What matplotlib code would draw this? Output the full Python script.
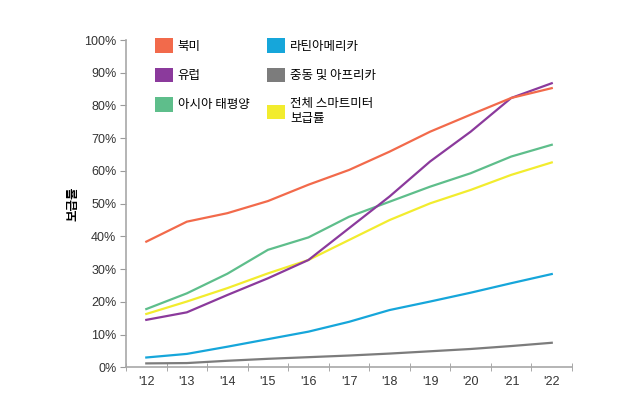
import matplotlib
matplotlib.use('Agg')
import matplotlib.pyplot as plt
from matplotlib.patches import Patch
import numpy as np

plt.rcParams['font.family'] = ['Liberation Sans', 'Noto Sans CJK KR', 'DejaVu Sans']

# years '12 .. '22
years = ["'12", "'13", "'14", "'15", "'16", "'17", "'18", "'19", "'20", "'21", "'22"]

# smart meter penetration (%)
north_america = [38.4, 44.5, 47.1, 50.8, 55.8, 60.3, 65.9, 72.0, 77.2, 82.3, 85.3]
europe = [14.5, 16.8, 22.1, 27.2, 32.8, 42.5, 52.2, 62.9, 72.0, 82.3, 86.8]
asia_pacific = [17.8, 22.6, 28.6, 35.9, 39.7, 46.0, 50.6, 55.2, 59.3, 64.4, 68.0]
latin_america = [3.0, 4.1, 6.3, 8.6, 10.9, 13.9, 17.5, 20.1, 22.8, 25.7, 28.5]
mea = [1.2, 1.3, 2.0, 2.6, 3.1, 3.6, 4.2, 4.9, 5.6, 6.5, 7.5]
overall = [16.3, 20.1, 24.2, 28.7, 32.8, 38.9, 45.0, 50.1, 54.2, 58.8, 62.6]

c_na = '#F26A4B'
c_eu = '#8B3A9C'
c_ap = '#5EBE8B'
c_la = '#16A6DA'
c_mea = '#7C7C7C'
c_all = '#F2EC2E'

fig = plt.figure(figsize=(6.41, 4.04), dpi=100)
ax = fig.add_axes([0.1966, 0.0908, 0.6958, 0.8101])

x = np.arange(len(years))
ax.plot(x, mea, color=c_mea, lw=1.6)
ax.plot(x, latin_america, color=c_la, lw=1.6)
ax.plot(x, overall, color=c_all, lw=1.6)
ax.plot(x, asia_pacific, color=c_ap, lw=1.6)
ax.plot(x, europe, color=c_eu, lw=1.6)
ax.plot(x, north_america, color=c_na, lw=1.6)

ax.set_xlim(-0.5, len(years) - 0.5)
ax.set_ylim(0, 100)
ax.set_xticks(x)
ax.set_xticklabels(years, fontsize=9, color='#333333')
ax.set_xticks(np.arange(-0.5, len(years), 1.0), minor=True)
ax.tick_params(axis='x', which='major', length=0, pad=6)
ax.tick_params(axis='x', which='minor', direction='inout', length=6, color='#9a9a9a')
ax.set_yticks(np.arange(0, 101, 10))
ax.set_yticklabels([f'{v}%' for v in range(0, 101, 10)], fontsize=9, color='#333333')
ax.tick_params(axis='y', length=4, color='#9a9a9a', pad=3)

for s in ['top', 'right']:
    ax.spines[s].set_visible(False)
for s in ['left', 'bottom']:
    ax.spines[s].set_color('#a8a8a8')
    ax.spines[s].set_linewidth(1.2)

ax.set_ylabel('보급률', fontsize=9, fontweight='bold', labelpad=3)

labels = ['북미', '유럽', '아시아 태평양', '라틴아메리카', '중동 및 아프리카', '전체 스마트미터\n보급률']
colors = [c_na, c_eu, c_ap, c_la, c_mea, c_all]
handles = [Patch(facecolor=c, edgecolor='none') for c in colors]
ax.legend(handles, labels, ncol=2, loc='upper left', bbox_to_anchor=(0.04, 1.04),
          frameon=False, handlelength=1.4, handleheight=1.4,
          handletextpad=0.4, columnspacing=1.45, labelspacing=1.2,
          prop={'family': ['Noto Sans CJK KR'], 'size': 9})

fig.savefig('out.png', dpi=100)
